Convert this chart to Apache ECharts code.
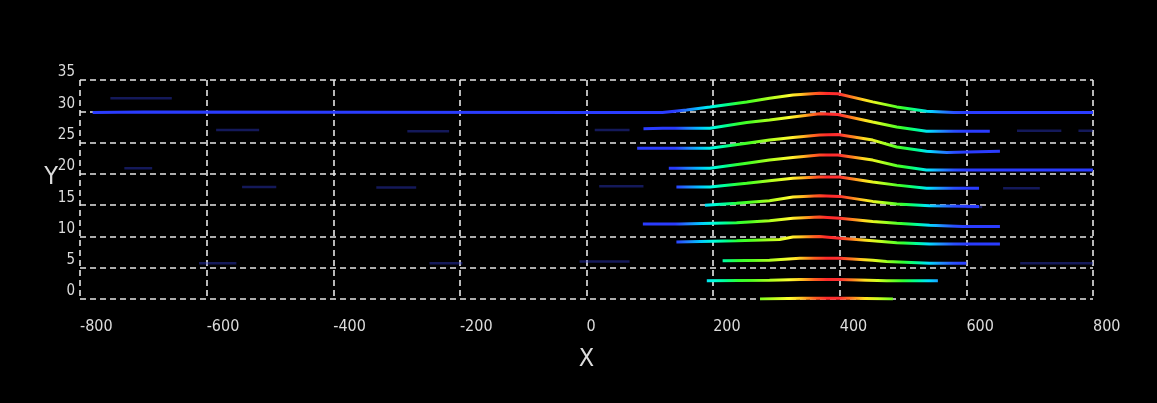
<!DOCTYPE html>
<html>
<head>
<meta charset="utf-8">
<script src="https://cdn.jsdelivr.net/npm/echarts@6/dist/echarts.min.js"></script>
<style>
html,body{margin:0;padding:0;background:#000;}
#chart{width:1157px;height:403px;}
</style>
</head>
<body>
<div id="chart"></div>
<script>
// ---- tick labels / axes ----
var xTicks = [-800, -600, -400, -200, 0, 200, 400, 600, 800];
var yTicks = [0, 5, 10, 15, 20, 25, 30, 35];

// ---- curves (x, y) ----
var curve30 = [[-780,29.8],[-700,29.9],[0,29.8],[120,29.8],[158,30.2],[195,30.7],[253,31.5],[289,32.1],[326,32.6],[368,32.9],[397,32.8],[452,31.5],[490,30.7],[537,30.0],[580,29.8],[700,29.8],[800,29.8]];
var curve27 = [[90,27.2],[120,27.3],[195,27.3],[253,28.2],[289,28.6],[326,29.1],[368,29.6],[397,29.5],[452,28.3],[490,27.5],[537,26.8],[637,26.8]];
var curve24 = [[80,24.1],[195,24.1],[253,24.9],[289,25.4],[326,25.8],[368,26.2],[397,26.3],[452,25.4],[490,24.3],[537,23.6],[569,23.4],[653,23.6]];
var curve21 = [[130,20.9],[195,20.9],[253,21.7],[289,22.2],[326,22.6],[368,23.0],[397,23.0],[452,22.2],[490,21.3],[537,20.6],[650,20.6],[800,20.6]];
var curve18 = [[142,17.9],[195,17.9],[253,18.5],[289,18.9],[326,19.3],[368,19.5],[400,19.5],[452,18.7],[490,18.2],[537,17.7],[620,17.7]];
var curve15 = [[187,15.0],[237,15.3],[289,15.7],[326,16.3],[368,16.5],[400,16.4],[452,15.6],[490,15.2],[542,14.9],[620,14.8]];
var curve12 = [[89,12.0],[147,12.0],[237,12.2],[289,12.5],[326,12.9],[368,13.1],[400,12.9],[452,12.4],[490,12.1],[542,11.8],[594,11.6],[653,11.6]];
var curve9  = [[142,9.1],[237,9.3],[305,9.5],[326,9.9],[368,10.0],[400,9.7],[452,9.3],[490,9.0],[542,8.8],[653,8.8]];
var curve6  = [[215,6.1],[289,6.2],[337,6.5],[400,6.5],[452,6.2],[474,6.0],[542,5.7],[600,5.7]];
var curve3  = [[190,2.9],[289,3.0],[337,3.1],[400,3.1],[474,2.9],[555,2.9]];
var curve0  = [[274,0.0],[340,0.1],[420,0.1],[484,0.0]];

// ---- faint blue ghost segments: [xStart, xEnd, y] ----
var ghostSegments = [
  [-752,-655,32.1],[-585,-517,27.0],[-730,-686,20.9],[-544,-490,17.9],[-612,-553,5.7],
  [-283,-217,26.8],[-332,-269,17.8],[-248,-196,5.7],[13,68,27.0],[20,90,18.0],
  [-11,68,6.0],[680,750,26.9],[777,800,26.9],[658,716,17.7],[600,625,14.7],[685,800,5.7]
];

// colour along x (140 .. 600, every 20)
var xColours = ['#2a3cff','#2080ff','#00c8ff','#00ffe0','#00ff90','#30ff30','#50ff20','#90ff20',
  '#c8ff20','#ffff30','#ffc020','#ff6020','#ff2a2a','#ff3030','#ff8020','#ffe020',
  '#d0ff20','#80ff20','#30ff30','#00ff90','#00e0ff','#2090ff','#2a50ff','#2a3cff'];

var curves = [curve30, curve27, curve24, curve21, curve18, curve15, curve12, curve9, curve6, curve3, curve0];

var textFont = "'Liberation Sans Narrow','DejaVu Sans Condensed','Liberation Sans',sans-serif";
var gridLine = {show:true, lineStyle:{color:'#e6e6e6', width:1.6, type:[6,4]}};

var series = curves.map(function(c){
  return {type:'line', data:c, showSymbol:false, symbol:'none', lineStyle:{width:3}, z:3, silent:true};
});

var ghostData = [];
ghostSegments.forEach(function(s){
  ghostData.push([s[0], s[2]]);
  ghostData.push([s[1], s[2]]);
  ghostData.push([s[1], null]);
});
series.push({type:'line', data:ghostData, showSymbol:false, symbol:'none', connectNulls:false,
  lineStyle:{width:2.5, color:'rgba(45,55,200,0.45)'}, z:2, silent:true});

var chart = echarts.init(document.getElementById('chart'));
chart.setOption({
  backgroundColor:'#000',
  animation:false,
  grid:{left:80, right:64, top:80, bottom:104},
  visualMap:{
    show:false, type:'continuous', dimension:0, min:140, max:600,
    seriesIndex:[0,1,2,3,4,5,6,7,8,9,10],
    inRange:{color:xColours},
    outOfRange:{color:'rgba(36,50,210,0.7)'}
  },
  xAxis:{
    type:'value', min:xTicks[0], max:xTicks[xTicks.length-1], interval:200,
    axisLine:{show:false}, axisTick:{show:false},
    splitLine:gridLine,
    axisLabel:{color:'#dcdcdc', fontFamily:textFont, fontSize:16, align:'left', margin:20,
      formatter:function(v){return String(v);}},
    name:'X', nameLocation:'middle', nameGap:48, nameMoveOverlap:false,
    nameTextStyle:{color:'#dcdcdc', fontFamily:textFont, fontSize:25}
  },
  yAxis:{
    type:'value', min:yTicks[0], max:yTicks[yTicks.length-1], interval:5,
    axisLine:{show:false}, axisTick:{show:false},
    splitLine:gridLine,
    axisLabel:{color:'#dcdcdc', fontFamily:textFont, fontSize:15, align:'right', verticalAlign:'bottom', margin:5},
    name:'Y', nameLocation:'middle', nameGap:22, nameRotate:0, nameMoveOverlap:false,
    nameTextStyle:{color:'#dcdcdc', fontFamily:textFont, fontSize:25, verticalAlign:'bottom'}
  },
  series:series
});
</script>
</body>
</html>
